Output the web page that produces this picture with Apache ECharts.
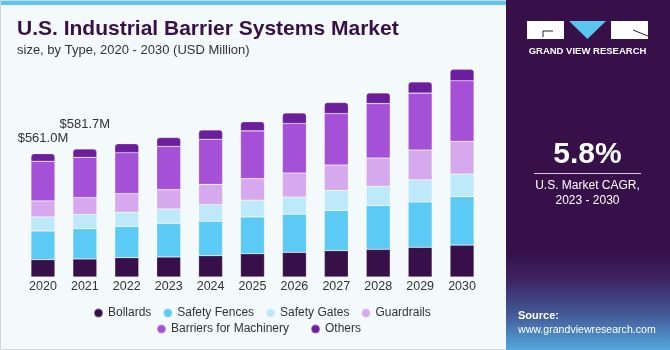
<!DOCTYPE html>
<html>
<head>
<meta charset="utf-8">
<script src="https://cdn.jsdelivr.net/npm/echarts@6/dist/echarts.min.js"></script>
<style>
html,body{margin:0;padding:0;background:#f4f9fc;}
#chart{width:670px;height:350px;}
</style>
</head>
<body>
<div id="chart"></div>
<script>
const years = ['2020','2021','2022','2023','2024','2025','2026','2027','2028','2029','2030'];
const bollards      = [79, 82, 88, 91, 97, 106, 112, 120, 126, 135, 145];
const safetyFences  = [130, 138, 142, 152, 156, 167, 174, 183, 198, 206, 220];
const safetyGates   = [64, 64, 64, 66, 76, 76, 77, 91, 88, 101, 103];
const guardrails    = [73, 77, 85, 88, 92, 98, 110, 115, 129, 135, 149];
const barriers      = [180, 183, 186, 197, 205, 217, 225, 234, 247, 259, 275];
const others        = [35, 37.7, 41, 40, 42, 42, 48, 50, 49, 51, 52];
const valueLabels   = ['$561.0M', '$581.7M'];
const seriesNames   = ['Bollards','Safety Fences','Safety Gates','Guardrails','Barriers for Machinery','Others'];
const seriesColors  = ['#37104a','#5bcaf5','#bde9fa','#d6a9ee','#a450d7','#6c1f9d'];
const seriesData    = [bollards, safetyFences, safetyGates, guardrails, barriers, others];
const labelDistances = [9, 18];

const chart = echarts.init(document.getElementById('chart'), null, {renderer:'canvas'});
const FONT = 'Liberation Sans, Arial, sans-serif';

const series = seriesNames.map((name, i) => {
  const isTop = i === seriesNames.length - 1;
  const data = seriesData[i].map((v, j) => {
    if (isTop && j < valueLabels.length) {
      return {
        value: v,
        label: {
          show: true, position: 'top', distance: labelDistances[j],
          formatter: valueLabels[j],
          color: '#333', fontSize: 13, fontFamily: FONT
        }
      };
    }
    return v;
  });
  return {
    name: name, type: 'bar', stack: 'total', barWidth: 24,
    itemStyle: {
      color: seriesColors[i],
      borderColor: 'rgba(255,255,255,0.35)', borderWidth: 0.6,
      borderRadius: isTop ? [3,3,0,0] : 0
    },
    emphasis: {disabled: true},
    animation: false,
    data: data
  };
});

const option = {
  animation: false,
  backgroundColor: '#f4f9fc',
  grid: {left: 22, right: 187, top: 57, bottom: 73},
  xAxis: {
    type: 'category', data: years,
    axisLine: {show: false}, axisTick: {show: false},
    axisLabel: {color: '#333', fontSize: 12.5, margin: 3, fontFamily: FONT}
  },
  yAxis: {type: 'value', min: 0, max: 1000, show: false, splitLine: {show: false}},
  legend: [
    {
      data: seriesNames.slice(0, 4), left: 88, top: 302, icon: 'circle',
      itemWidth: 9, itemHeight: 9, itemGap: 11,
      textStyle: {color: '#333', fontSize: 12, fontFamily: FONT}
    },
    {
      data: seriesNames.slice(4), left: 151, top: 318, icon: 'circle',
      itemWidth: 9, itemHeight: 9, itemGap: 21,
      textStyle: {color: '#333', fontSize: 12, fontFamily: FONT}
    }
  ],
  graphic: [
    {type: 'rect', z: -10, shape: {x: 0, y: 0, width: 506, height: 5}, style: {fill: '#5bc5ef'}},
    {type: 'rect', z: -10, shape: {x: 0.5, y: 0.5, width: 669, height: 349}, style: {fill: 'none', stroke: '#d3d6d9', lineWidth: 1}},
    {type: 'rect', z: -5, shape: {x: 506, y: 0, width: 164, height: 350},
      style: {fill: new echarts.graphic.LinearGradient(0, 0, 0, 1, [
        {offset: 0, color: '#37104a'},
        {offset: 0.72, color: '#37104a'},
        {offset: 0.8, color: '#3d2462'},
        {offset: 0.9, color: '#435a98'},
        {offset: 1, color: '#52a9de'}
      ])}},
    // logo
    {type: 'rect', shape: {x: 527, y: 21, width: 37, height: 18}, style: {fill: '#ffffff'}},
    {type: 'polyline', shape: {points: [[543, 37], [543, 31], [553, 31]]}, style: {stroke: '#37104a', lineWidth: 1, fill: 'none'}},
    {type: 'polygon', shape: {points: [[569, 21], [606, 21], [587.5, 39]]}, style: {fill: '#5bc5ef'}},
    {type: 'rect', shape: {x: 611, y: 21, width: 37, height: 18}, style: {fill: '#ffffff'}},
    {type: 'line', shape: {x1: 633, y1: 30, x2: 648, y2: 36}, style: {stroke: '#37104a', lineWidth: 1}},
    {type: 'text', style: {text: 'GRAND VIEW RESEARCH', x: 587.5, y: 51.5, align: 'center', verticalAlign: 'middle', fill: '#ffffff', font: 'bold 9.5px ' + FONT}},
    // title
    {type: 'text', style: {text: 'U.S. Industrial Barrier Systems Market', x: 17, y: 29, verticalAlign: 'middle', fill: '#37104a', font: 'bold 21px ' + FONT}},
    {type: 'text', style: {text: 'size, by Type, 2020 - 2030 (USD Million)', x: 17, y: 50, verticalAlign: 'middle', fill: '#333333', font: '13px ' + FONT}},
    // CAGR panel
    {type: 'text', style: {text: '5.8%', x: 587.5, y: 155, align: 'center', verticalAlign: 'middle', fill: '#ffffff', font: 'bold 30px ' + FONT}},
    {type: 'line', shape: {x1: 534, y1: 173.5, x2: 641, y2: 173.5}, style: {stroke: '#d9d0e0', lineWidth: 1}},
    {type: 'text', style: {text: 'U.S. Market CAGR,', x: 587.5, y: 186, align: 'center', verticalAlign: 'middle', fill: '#ffffff', font: '12px ' + FONT}},
    {type: 'text', style: {text: '2023 - 2030', x: 587.5, y: 201, align: 'center', verticalAlign: 'middle', fill: '#ffffff', font: '12px ' + FONT}},
    {type: 'text', style: {text: 'Source:', x: 518, y: 316, verticalAlign: 'middle', fill: '#ffffff', font: 'bold 11px ' + FONT}},
    {type: 'text', style: {text: 'www.grandviewresearch.com', x: 518, y: 330, verticalAlign: 'middle', fill: '#ffffff', font: '10.6px ' + FONT}}
  ],
  series: series
};
chart.setOption(option);
</script>
</body>
</html>
